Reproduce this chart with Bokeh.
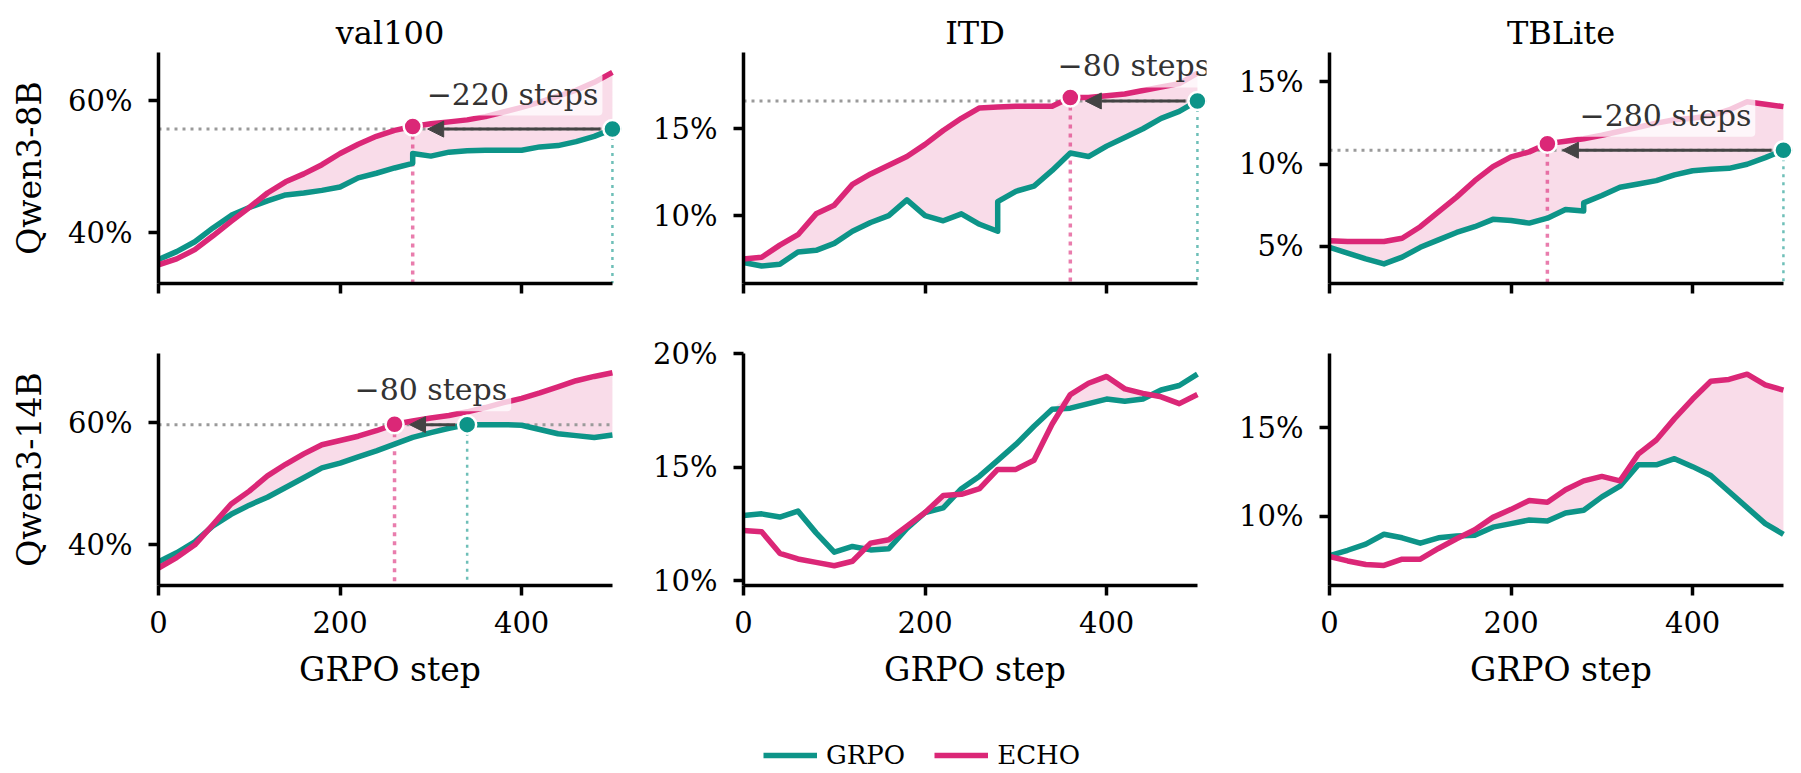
import numpy as np
from bokeh.plotting import figure
from bokeh.layouts import column, row
from bokeh.models import (Range1d, FixedTicker, PrintfTickFormatter, Arrow, NormalHead,
                          Label, Legend, LegendItem)
from bokeh.embed import file_html
from bokeh.resources import INLINE

# ---------------- data ----------------
benchmarks = ["val100", "ITD", "TBLite"]
models = ["Qwen3-8B", "Qwen3-14B"]
series_names = ["GRPO", "ECHO"]
x_ticks = [0, 200, 400]

# Qwen3-8B runs (GRPO resumed at step 280 -> repeated step)
steps_8b = [0, 20, 40, 60, 80, 100, 120, 140, 160, 180, 200, 220, 240, 260, 280, 280,
            300, 320, 340, 360, 380, 400, 420, 440, 460, 480, 500]
grpo_8b_val100 = [35.9, 37.1, 38.6, 40.7, 42.6, 43.8, 44.8, 45.7, 46.0, 46.4, 46.9, 48.3, 49.0, 49.8, 50.5, 52.0,
                  51.6, 52.2, 52.4, 52.5, 52.5, 52.5, 53.0, 53.2, 53.8, 54.6, 55.7]
echo_8b_val100 = [35.1, 36.0, 37.4, 39.5, 41.7, 43.8, 46.0, 47.7, 48.9, 50.3, 52.0, 53.4, 54.6, 55.5, 56.1, 56.1,
                  56.5, 56.8, 57.1, 57.6, 58.3, 59.0, 59.8, 60.7, 61.6, 62.8, 64.3]
grpo_8b_itd = [7.3, 7.1, 7.2, 7.9, 8.0, 8.4, 9.1, 9.6, 10.0, 10.9, 10.0, 9.7, 10.1, 9.5, 9.1, 10.8,
               11.4, 11.7, 12.6, 13.6, 13.4, 14.0, 14.5, 15.0, 15.6, 16.0, 16.6]
echo_8b_itd = [7.5, 7.6, 8.3, 8.9, 10.1, 10.6, 11.8, 12.4, 12.9, 13.4, 14.1, 14.9, 15.6, 16.2, 16.25, 16.25,
               16.3, 16.3, 16.3, 16.8, 16.8, 16.9, 17.0, 17.2, 17.4, 17.6, 18.2]
grpo_8b_tblite = [4.95, 4.6, 4.25, 3.94, 4.35, 4.95, 5.4, 5.85, 6.2, 6.65, 6.58, 6.42, 6.72, 7.25, 7.15, 7.65,
                  8.1, 8.6, 8.8, 9.0, 9.35, 9.6, 9.7, 9.75, 10.0, 10.4, 10.85]
echo_8b_tblite = [5.35, 5.3, 5.3, 5.3, 5.5, 6.2, 7.1, 8.0, 9.0, 9.85, 10.45, 10.75, 11.25, 11.4, 11.55, 11.55,
                  11.76, 12.0, 12.25, 12.5, 12.7, 12.8, 12.95, 13.3, 13.8, 13.65, 13.5]

# Qwen3-14B runs
steps_14b = [0, 20, 40, 60, 80, 100, 120, 140, 160, 180, 200, 220, 240, 260, 280,
             300, 320, 340, 360, 380, 400, 420, 440, 460, 480, 500]
grpo_14b_val100 = [37.2, 38.7, 40.5, 43.1, 45.0, 46.5, 47.8, 49.4, 51.0, 52.6, 53.4, 54.4, 55.4, 56.5, 57.6,
                   58.4, 59.1, 59.7, 59.7, 59.7, 59.6, 58.9, 58.2, 57.9, 57.6, 58.0]
echo_14b_val100 = [36.2, 37.9, 40.0, 43.3, 46.7, 48.8, 51.3, 53.2, 54.9, 56.4, 57.1, 57.8, 58.7, 59.75, 60.3,
                   60.8, 61.2, 61.8, 62.5, 63.3, 64.0, 64.9, 65.9, 66.9, 67.6, 68.2]
grpo_14b_itd = [12.87, 12.94, 12.8, 13.06, 12.1, 11.25, 11.5, 11.35, 11.4, 12.3, 13.0, 13.2, 14.05, 14.6, 15.3,
                16.0, 16.8, 17.55, 17.6, 17.8, 18.0, 17.9, 18.0, 18.4, 18.6, 19.1]
echo_14b_itd = [12.2, 12.15, 11.2, 10.95, 10.8, 10.65, 10.85, 11.65, 11.8, 12.4, 13.0, 13.75, 13.8, 14.05, 14.9,
                14.9, 15.3, 16.9, 18.2, 18.7, 19.0, 18.45, 18.25, 18.1, 17.8, 18.2]
grpo_14b_tblite = [7.8, 8.1, 8.45, 9.0, 8.8, 8.5, 8.8, 8.9, 8.95, 9.4, 9.6, 9.8, 9.75, 10.2, 10.35,
                   11.1, 11.7, 12.9, 12.9, 13.25, 12.8, 12.3, 11.4, 10.5, 9.6, 9.0]
echo_14b_tblite = [7.75, 7.5, 7.3, 7.25, 7.6, 7.6, 8.2, 8.75, 9.25, 9.95, 10.4, 10.9, 10.8, 11.5, 12.0,
                   12.25, 12.0, 13.5, 14.3, 15.5, 16.6, 17.6, 17.7, 18.0, 17.4, 17.1]

y_ticks_8b = [[40, 60], [10, 15], [5, 10, 15]]
y_ticks_14b = [[40, 60], [10, 15, 20], [10, 15]]
notes_8b = ["\u2212220 steps", "\u221280 steps", "\u2212280 steps"]
notes_14b = ["\u221280 steps", None, None]

# ---------------- style / layout ----------------
FONT = "DejaVu Serif"
TEAL = "#0d9488"
PINK = "#db2777"
X0, X1 = 0, 510
FRAME_W = 463
COL_LEFT = [158, 112, 113]
COL_RIGHT = [10, 10, 8]
ROW_TOP = [52, 20]
ROW_FRAME_H = [231, 232]
ROW_BOTTOM = [50, 120]
Y_LIMITS = [[(32.26, 67.33), (6.09, 19.39), (2.75, 16.79)],
            [(33.33, 71.36), (9.78, 20.01), (6.12, 19.16)]]
LEG_H = 67


def make_panel(ri, ci, steps, grpo, echo, yticks, note):
    s = np.asarray(steps, float)
    g = np.asarray(grpo, float)
    e = np.asarray(echo, float)
    ylo, yhi = Y_LIMITS[ri][ci]
    p = figure(width=COL_LEFT[ci] + FRAME_W + COL_RIGHT[ci],
               height=ROW_TOP[ri] + ROW_FRAME_H[ri] + ROW_BOTTOM[ri],
               x_range=Range1d(X0, X1), y_range=Range1d(ylo, yhi),
               output_backend="svg", toolbar_location=None,
               min_border_left=COL_LEFT[ci], min_border_right=COL_RIGHT[ci],
               min_border_top=ROW_TOP[ri], min_border_bottom=ROW_BOTTOM[ri],
               title=(benchmarks[ci] if ri == 0 else None))
    p.outline_line_color = None
    p.grid.visible = False
    p.background_fill_color = "white"
    p.border_fill_color = "white"
    if ri == 0:
        p.title.align = "center"
        p.title.text_font = FONT
        p.title.text_font_size = "32px"
        p.title.text_font_style = "normal"
        p.title.text_color = "black"
        p.title.standoff = 2

    for ax in (p.xaxis[0], p.yaxis[0]):
        ax.axis_line_width = 3.5
        ax.axis_line_color = "black"
        ax.major_tick_line_width = 3.5
        ax.major_tick_line_color = "black"
        ax.major_tick_out = 10
        ax.major_tick_in = 0
        ax.minor_tick_line_color = None
        ax.major_label_text_font = FONT
        ax.major_label_text_font_size = "29px"
        ax.major_label_text_color = "black"
        ax.axis_label_text_font = FONT
        ax.axis_label_text_font_size = "33px"
        ax.axis_label_text_font_style = "normal"
        ax.axis_label_text_color = "black"
    p.xaxis.ticker = FixedTicker(ticks=x_ticks)
    p.xaxis.bounds = (float(s.min()), float(s.max()))
    p.yaxis.ticker = FixedTicker(ticks=yticks)
    p.yaxis.formatter = PrintfTickFormatter(format="%d%%")
    p.yaxis.major_label_standoff = 16
    if ri == 0:
        # shared x axis: ticks only, no labels on the top row
        p.xaxis.major_label_text_color = None
        p.xaxis.major_label_standoff = 0
    else:
        p.xaxis.major_label_standoff = 15
        p.xaxis.axis_label = "GRPO step"
        p.xaxis.axis_label_standoff = 14
    if ci == 0:
        p.yaxis.axis_label = models[ri]
        p.yaxis.axis_label_standoff = 16

    # shaded gain where ECHO is above GRPO
    p.varea(x=s, y1=g, y2=np.maximum(g, e), fill_color=PINK, fill_alpha=0.16)

    if note:
        kg = int(np.argmax(g))
        target = g[kg]
        xg = s[kg]
        ke = int(np.argmax(e >= target))
        xe, ye = s[ke], e[ke]
        p.segment(x0=[s.min()], y0=[target], x1=[s.max()], y1=[target],
                  line_color="#9a9a9a", line_width=3, line_dash="3 5")
        p.segment(x0=[xe], y0=[ye], x1=[xe], y1=[ylo],
                  line_color=PINK, line_alpha=0.6, line_width=3.5, line_dash="4 5")
        p.segment(x0=[xg], y0=[target], x1=[xg], y1=[ylo],
                  line_color=TEAL, line_alpha=0.6, line_width=2.5, line_dash="3 5")

    p.line(s, g, line_color=TEAL, line_width=5.5, line_join="round")
    p.line(s, e, line_color=PINK, line_width=5.5, line_join="round")

    if note:
        p.scatter([xe], [ye], size=18, fill_color=PINK, line_color="white", line_width=2.5)
        p.scatter([xg], [target], size=18, fill_color=TEAL, line_color="white", line_width=2.5)
        ppx = FRAME_W / (X1 - X0)
        p.add_layout(Arrow(x_start=xg - 12 / ppx, y_start=target, x_end=xe + 15 / ppx, y_end=target,
                           line_color="#444444", line_width=3,
                           end=NormalHead(size=16, fill_color="#444444", line_color="#444444", line_width=1)))
        p.add_layout(Label(x=(xe + xg) / 2, y=target, y_offset=35, text=note,
                           text_align="center", text_baseline="middle",
                           text_font=FONT, text_font_size="30px", text_color="#333333",
                           background_fill_color="white", background_fill_alpha=0.75,
                           padding=4, border_radius=4))
    return p


row1 = [
    make_panel(0, 0, steps_8b, grpo_8b_val100, echo_8b_val100, y_ticks_8b[0], notes_8b[0]),
    make_panel(0, 1, steps_8b, grpo_8b_itd, echo_8b_itd, y_ticks_8b[1], notes_8b[1]),
    make_panel(0, 2, steps_8b, grpo_8b_tblite, echo_8b_tblite, y_ticks_8b[2], notes_8b[2]),
]
row2 = [
    make_panel(1, 0, steps_14b, grpo_14b_val100, echo_14b_val100, y_ticks_14b[0], notes_14b[0]),
    make_panel(1, 1, steps_14b, grpo_14b_itd, echo_14b_itd, y_ticks_14b[1], notes_14b[1]),
    make_panel(1, 2, steps_14b, grpo_14b_tblite, echo_14b_tblite, y_ticks_14b[2], notes_14b[2]),
]

total_w = sum(COL_LEFT) + 3 * FRAME_W + sum(COL_RIGHT)
leg = figure(width=total_w, height=LEG_H, x_range=Range1d(0, 1), y_range=Range1d(0, 1),
             output_backend="svg", toolbar_location=None,
             x_axis_location=None, y_axis_location=None, min_border=0)
leg.outline_line_color = None
leg.grid.visible = False
# legend-only renderers (a single undefined point, nothing visible in the frame)
r_g = leg.line(x=[np.nan], y=[np.nan], line_color=TEAL, line_width=5.5)
r_e = leg.line(x=[np.nan], y=[np.nan], line_color=PINK, line_width=5.5)
legend = Legend(items=[LegendItem(label=series_names[0], renderers=[r_g]),
                       LegendItem(label=series_names[1], renderers=[r_e])],
                orientation="horizontal", location=(763, 2),
                glyph_width=54, glyph_height=26, label_standoff=9, spacing=29,
                padding=0, margin=0, border_line_color=None, background_fill_alpha=0,
                label_text_font=FONT, label_text_font_size="26px", label_text_color="black")
leg.add_layout(legend)

layout = column(row(*row1), row(*row2), leg)
open("out.html", "w").write(file_html(layout, INLINE))
